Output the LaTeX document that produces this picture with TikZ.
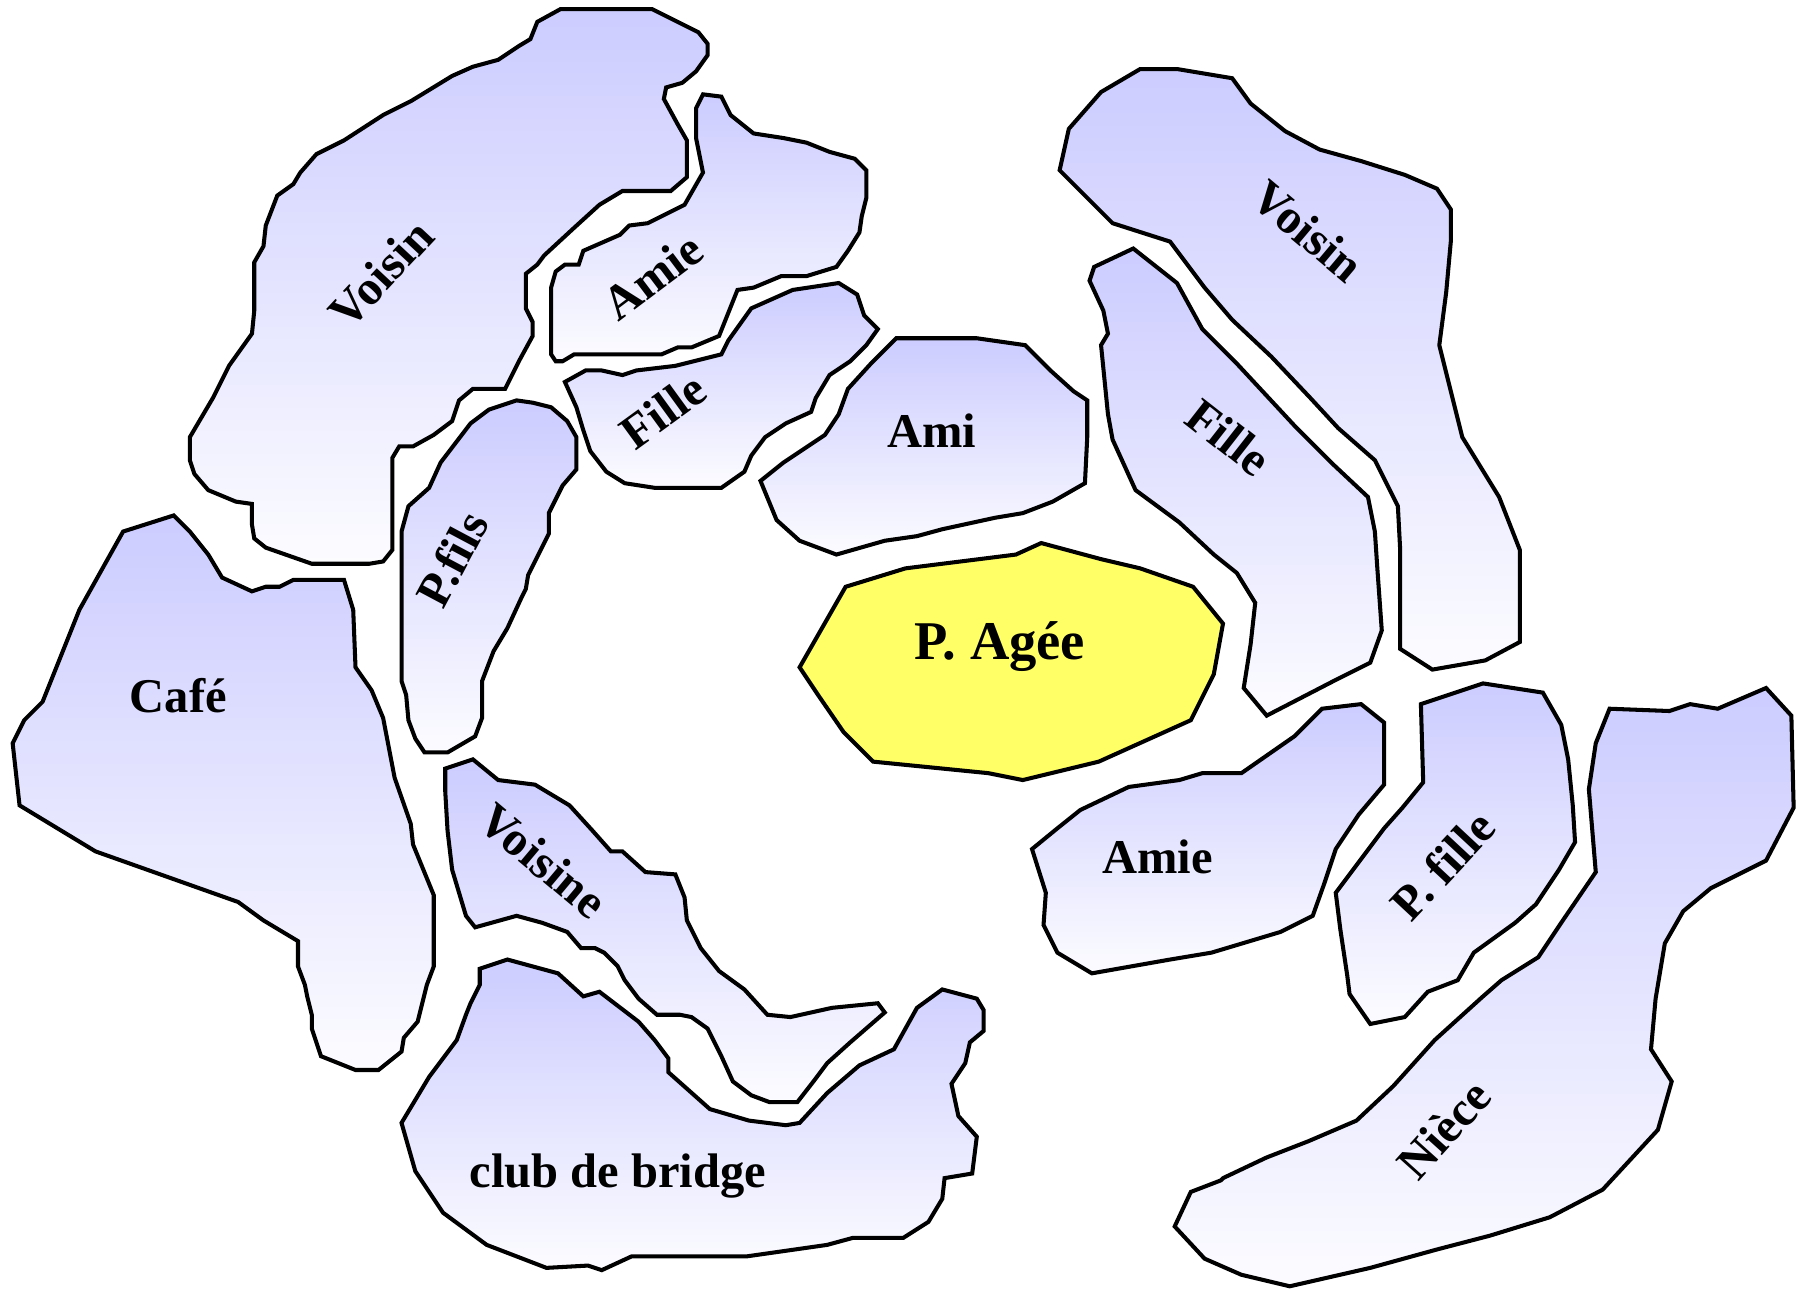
\documentclass[tikz,border=0pt]{standalone}
\usepackage{fontspec}
\setmainfont{Liberation Serif}
\definecolor{blobtop}{RGB}{204,204,255}
\definecolor{blobbot}{RGB}{252,252,255}
\definecolor{ageefill}{RGB}{255,255,102}
\begin{document}
\begin{tikzpicture}[x=0.02cm,y=-0.02cm,
  blob/.style={draw=black,line width=2pt,line join=miter,top color=blobtop,bottom color=blobbot},
  lab/.style={font=\bfseries\fontsize{24}{28}\selectfont,inner sep=0pt}]
\useasboundingbox (0,0) rectangle (1568,1122);
% Voisin top-left
\path[blob] (467,19)--(487,8)--(567,8)--(607,28)--(615,38)--(615,48)--(605,62)--(593,72)--(579,76)--(577,86)--(589,108)--(597,122)--(597,154)--(583,166)--(541,166)--(521,178)--(499,198)--(473,222)--(467,230)--(457,238)--(457,268)--(463,280)--(463,292)--(451,314)--(439,338)--(411,338)--(399,348)--(393,366)--(377,378)--(359,388)--(347,388)--(341,398)--(341,478)--(333,488)--(321,490)--(271,490)--(231,476)--(221,468)--(219,456)--(219,438)--(205,436)--(181,426)--(169,412)--(165,400)--(165,380)--(185,346)--(199,318)--(219,290)--(221,270)--(221,228)--(229,214)--(231,196)--(241,170)--(255,160)--(261,150)--(275,134)--(299,122)--(333,100)--(357,88)--(393,66)--(411,58)--(433,52)--(451,40)--(461,34)--cycle;
\node[lab,rotate=47] (voisinA) at (331,238) {Voisin};
% Amie top
\path[blob] (611,82)--(627,84)--(635,100)--(655,116)--(681,120)--(701,124)--(721,132)--(743,138)--(753,148)--(753,172)--(749,188)--(747,202)--(737,218)--(727,232)--(701,240)--(679,240)--(655,250)--(641,252)--(625,292)--(601,302)--(589,302)--(575,308)--(499,308)--(489,314)--(483,314)--(479,308)--(479,250)--(483,236)--(491,230)--(503,230)--(507,218)--(539,204)--(547,196)--(563,194)--(595,178)--(611,150)--(605,120)--(605,94)--cycle;
\node[lab,rotate=37] (amieA) at (567,240) {Amie};
% Fille top
\path[blob] (491,332)--(509,322)--(523,322)--(541,326)--(553,322)--(587,318)--(627,308)--(633,296)--(653,268)--(689,252)--(729,246)--(745,256)--(751,274)--(763,286)--(753,300)--(739,314)--(721,326)--(709,346)--(705,358)--(683,368)--(665,380)--(653,396)--(647,410)--(627,424)--(569,424)--(543,420)--(527,410)--(513,392)--(507,374)--(501,354)--cycle;
\node[lab,rotate=36] (filleA) at (576,357) {Fille};
% Ami
\path[blob] (661,418)--(681,402)--(717,378)--(729,360)--(737,338)--(757,316)--(779,294)--(849,294)--(891,300)--(913,322)--(933,340)--(945,348)--(945,380)--(943,420)--(915,436)--(889,446)--(865,450)--(819,460)--(797,466)--(769,470)--(727,482)--(695,470)--(675,452)--cycle;
\node[lab] (ami) at (810,374) {Ami};
% P. Agee
\path[draw=black,line width=2pt,fill=ageefill] (735,510)--(787,494)--(883,482)--(905,472)--(957,486)--(991,494)--(1037,510)--(1063,542)--(1055,586)--(1035,626)--(955,662)--(889,678)--(859,672)--(759,662)--(733,636)--(711,604)--(695,580)--cycle;
\node[font=\bfseries\fontsize{27}{30}\selectfont,inner sep=0pt] (agee) at (869,562) {P. Agée};
% P.fils
\path[blob] (355,440)--(373,424)--(383,402)--(409,368)--(425,356)--(449,348)--(463,350)--(479,354)--(493,366)--(501,380)--(501,408)--(489,422)--(477,446)--(477,464)--(459,500)--(457,512)--(453,520)--(441,546)--(429,566)--(419,592)--(419,624)--(413,640)--(389,654)--(369,654)--(361,642)--(355,626)--(353,604)--(349,592)--(349,462)--cycle;
\node[lab,rotate=62] (pfils) at (393,486) {P.fils};
% Cafe
\path[blob] (107,462)--(151,448)--(165,462)--(181,482)--(193,502)--(219,514)--(231,510)--(243,510)--(255,504)--(299,504)--(307,530)--(309,580)--(323,600)--(333,624)--(343,676)--(357,716)--(359,734)--(377,778)--(377,840)--(371,856)--(369,864)--(363,888)--(351,902)--(349,914)--(329,930)--(309,930)--(279,918)--(271,894)--(271,882)--(267,866)--(265,856)--(259,840)--(259,818)--(229,800)--(207,784)--(83,740)--(17,700)--(11,646)--(21,626)--(37,610)--(69,530)--cycle;
\node[lab] (cafe) at (155,605) {Café};
% Voisine
\path[blob] (387,668)--(411,660)--(433,678)--(465,682)--(495,700)--(515,722)--(531,740)--(541,740)--(561,758)--(587,760)--(595,780)--(597,800)--(609,824)--(625,844)--(647,860)--(667,882)--(687,884)--(723,876)--(763,872)--(769,880)--(739,906)--(719,924)--(707,940)--(693,958)--(669,958)--(653,952)--(637,940)--(627,918)--(615,894)--(601,884)--(591,882)--(571,882)--(555,868)--(543,852)--(537,840)--(525,828)--(517,824)--(505,824)--(493,810)--(471,802)--(449,796)--(413,806)--(405,796)--(393,756)--(389,722)--(387,688)--cycle;
\node[lab,rotate=-40] (voisine) at (472,748) {Voisine};
% club de bridge
\path[blob] (417,842)--(441,834)--(485,846)--(507,866)--(521,862)--(555,888)--(569,904)--(581,920)--(581,932)--(617,964)--(651,974)--(683,978)--(695,976)--(719,950)--(747,926)--(777,912)--(797,876)--(819,860)--(849,868)--(855,878)--(855,896)--(843,906)--(839,924)--(827,942)--(833,970)--(849,988)--(845,1020)--(821,1024)--(819,1042)--(807,1062)--(785,1076)--(741,1076)--(719,1082)--(649,1092)--(549,1092)--(523,1104)--(511,1100)--(475,1102)--(423,1082)--(385,1054)--(361,1018)--(349,976)--(373,936)--(397,904)--(405,882)--(409,872)--(417,856)--cycle;
\node[lab] (club) at (537,1022) {club de bridge};
% Voisin right
\path[blob] (929,112)--(957,80)--(991,60)--(1023,60)--(1071,68)--(1087,90)--(1117,114)--(1147,130)--(1183,140)--(1221,152)--(1249,164)--(1261,182)--(1261,210)--(1257,254)--(1251,300)--(1261,340)--(1271,380)--(1287,406)--(1303,432)--(1321,478)--(1321,558)--(1291,574)--(1245,582)--(1217,564)--(1217,478)--(1215,440)--(1195,400)--(1163,372)--(1139,346)--(1105,310)--(1071,278)--(1047,250)--(1017,210)--(967,194)--(943,170)--(921,148)--cycle;
\node[lab,rotate=-40] (voisinB) at (1137,201) {Voisin};
% Fille right
\path[blob] (951,232)--(985,216)--(1023,246)--(1045,286)--(1075,316)--(1101,344)--(1127,372)--(1157,402)--(1189,432)--(1195,462)--(1197,492)--(1201,548)--(1191,576)--(1159,592)--(1101,622)--(1081,598)--(1087,560)--(1091,524)--(1075,498)--(1055,482)--(1025,454)--(987,426)--(967,382)--(963,360)--(957,300)--(963,290)--(959,270)--(947,244)--cycle;
\node[lab,rotate=-38] (filleB) at (1068,380) {Fille};
% Amie bottom right
\path[blob] (897,738)--(919,720)--(939,704)--(981,684)--(1025,678)--(1045,672)--(1079,672)--(1125,640)--(1149,616)--(1183,612)--(1203,628)--(1203,682)--(1181,708)--(1161,738)--(1151,768)--(1141,796)--(1113,810)--(1053,828)--(1017,834)--(949,846)--(919,828)--(907,804)--(909,776)--cycle;
\node[lab] (amieB) at (1006,745) {Amie};
% P. fille
\path[blob] (1235,612)--(1289,594)--(1341,602)--(1357,630)--(1363,660)--(1367,700)--(1369,732)--(1355,756)--(1335,786)--(1317,802)--(1281,828)--(1267,852)--(1241,862)--(1221,884)--(1191,890)--(1173,864)--(1171,848)--(1165,808)--(1161,776)--(1185,744)--(1203,720)--(1219,702)--(1237,680)--cycle;
\node[lab,rotate=47] (pfille) at (1254,752) {P. fille};
% Niece
\path[blob] (1399,616)--(1451,618)--(1469,612)--(1493,616)--(1535,598)--(1557,622)--(1559,702)--(1535,748)--(1487,772)--(1463,792)--(1447,820)--(1439,868)--(1435,912)--(1453,940)--(1441,982)--(1393,1034)--(1347,1058)--(1295,1074)--(1249,1086)--(1191,1102)--(1121,1118)--(1079,1108)--(1047,1094)--(1021,1066)--(1035,1036)--(1061,1026)--(1063,1024)--(1101,1006)--(1137,992)--(1179,974)--(1211,944)--(1247,904)--(1289,866)--(1305,852)--(1337,832)--(1357,802)--(1387,758)--(1381,686)--(1387,646)--cycle;
\node[lab,rotate=48] (niece) at (1255,982) {Nièce};
\end{tikzpicture}
\end{document}
